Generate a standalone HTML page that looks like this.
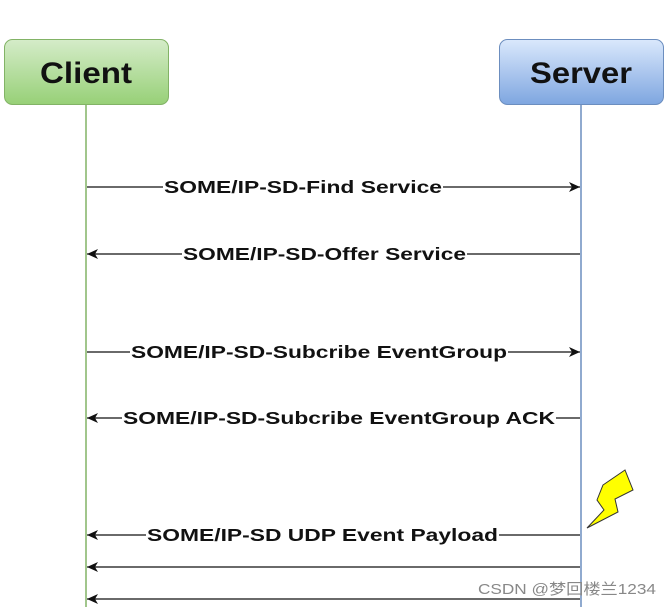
<!DOCTYPE html>
<html><head><meta charset="utf-8"><style>
html,body{margin:0;padding:0;background:#fff;}
svg{display:block;}
text{font-family:"Liberation Sans",Arial,sans-serif;font-weight:bold;font-size:17.5px;fill:#111;}
</style></head><body>
<svg width="672" height="607" viewBox="0 0 672 607" xmlns="http://www.w3.org/2000/svg">
<defs>
<linearGradient id="g" x1="0" y1="0" x2="0" y2="1"><stop offset="0" stop-color="#d5ecc9"/><stop offset="1" stop-color="#97d077"/></linearGradient>
<linearGradient id="b" x1="0" y1="0" x2="0" y2="1"><stop offset="0" stop-color="#dae8fc"/><stop offset="1" stop-color="#7ea6e0"/></linearGradient>
<marker id="ar" markerWidth="12" markerHeight="10" refX="11" refY="5" orient="auto" markerUnits="userSpaceOnUse"><path d="M0,0 L11,5 L0,10 L3,5 Z" fill="#111"/></marker>
</defs>
<line x1="86" y1="104" x2="86" y2="607" stroke="#82b366" stroke-width="1.5"/>
<line x1="581" y1="104" x2="581" y2="607" stroke="#6c8ebf" stroke-width="1.5"/>
<rect x="4.5" y="39.5" width="164" height="65" rx="8" fill="url(#g)" stroke="#82b366"/>
<rect x="499.5" y="39.5" width="164" height="65" rx="8" fill="url(#b)" stroke="#6c8ebf"/>
<text x="86" y="83" text-anchor="middle" style="font-size:30px" textLength="92" lengthAdjust="spacingAndGlyphs">Client</text>
<text x="581" y="83" text-anchor="middle" style="font-size:30px" textLength="102" lengthAdjust="spacingAndGlyphs">Server</text>
<g stroke="#111" stroke-width="1.3" marker-end="url(#ar)">
<line x1="87" y1="187" x2="580" y2="187"/>
<line x1="580" y1="254" x2="87" y2="254"/>
<line x1="87" y1="352" x2="580" y2="352"/>
<line x1="580" y1="418" x2="87" y2="418"/>
<line x1="580" y1="535" x2="87" y2="535"/>
<line x1="580" y1="567" x2="87" y2="567"/>
<line x1="580" y1="599" x2="87" y2="599"/>
</g>
<g fill="#fff">
<rect x="163" y="177" width="280" height="20"/>
<rect x="182" y="244" width="285" height="20"/>
<rect x="130" y="342" width="378" height="20"/>
<rect x="122" y="408" width="434" height="20"/>
<rect x="146" y="525" width="353" height="20"/>
</g>
<text x="164" y="193" textLength="278" lengthAdjust="spacingAndGlyphs">SOME/IP-SD-Find Service</text>
<text x="183" y="260" textLength="283" lengthAdjust="spacingAndGlyphs">SOME/IP-SD-Offer Service</text>
<text x="131" y="358" textLength="376" lengthAdjust="spacingAndGlyphs">SOME/IP-SD-Subcribe EventGroup</text>
<text x="123" y="424" textLength="432" lengthAdjust="spacingAndGlyphs">SOME/IP-SD-Subcribe EventGroup ACK</text>
<text x="147" y="541" textLength="351" lengthAdjust="spacingAndGlyphs">SOME/IP-SD UDP Event Payload</text>
<polygon points="603,485 625,470 633,490 615,499 618,512 587,528 604,510 597,500" fill="#ffff00" stroke="#333" stroke-width="1"/>
<text x="478" y="594" style="font-weight:normal;font-size:15px;fill:#888;font-family:'Liberation Sans','Noto Sans CJK SC',sans-serif" textLength="178" lengthAdjust="spacingAndGlyphs">CSDN @梦回楼兰1234</text>
</svg>
</body></html>
